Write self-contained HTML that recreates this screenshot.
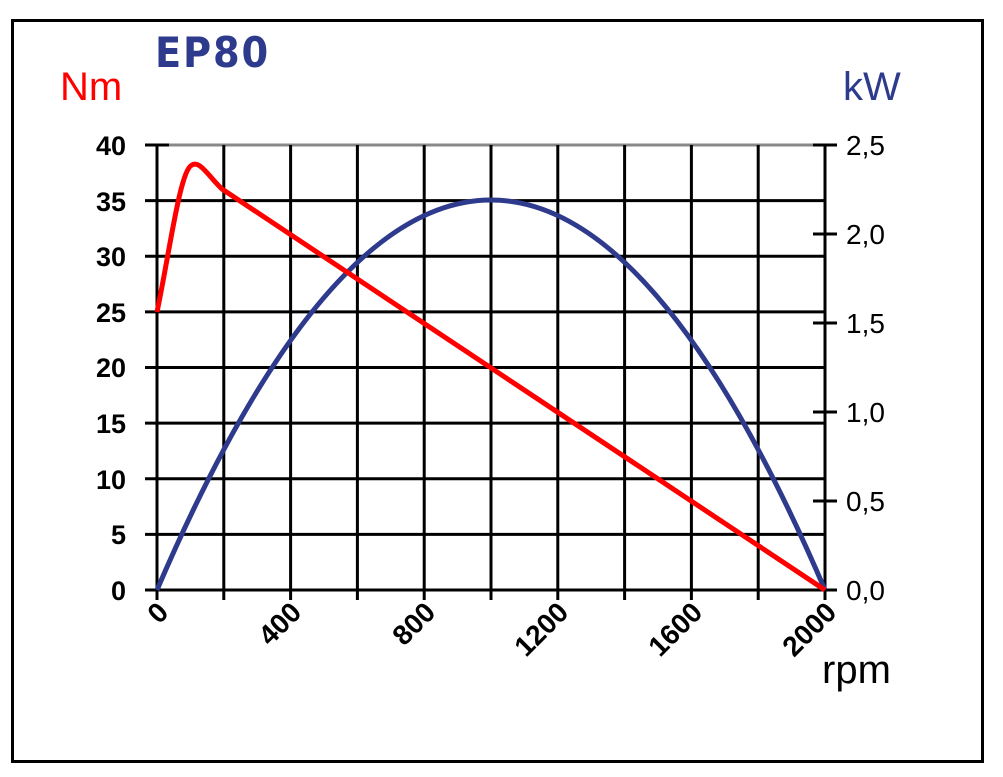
<!DOCTYPE html>
<html><head><style>
body{margin:0;background:#fff;width:1003px;height:772px;overflow:hidden}
</style></head><body>
<svg width="1003" height="772" viewBox="0 0 1003 772" xmlns="http://www.w3.org/2000/svg" font-family="Liberation Sans, sans-serif">
<rect x="12.5" y="20.5" width="970" height="741" fill="#fff" stroke="#000" stroke-width="3"/>
<text x="155" y="67" font-size="42" font-weight="bold" fill="#2e3a8c" letter-spacing="2" font-family="DejaVu Sans, sans-serif" textLength="115" lengthAdjust="spacingAndGlyphs">EP80</text>
<text x="60" y="100" font-size="40" fill="#ff0000">Nm</text>
<text x="843" y="100" font-size="40" fill="#2e3a8c">kW</text>
<text x="822" y="683" font-size="40" fill="#000">rpm</text>
<g stroke="#000" stroke-width="3">
<line x1="157" y1="145" x2="825" y2="145" stroke="#888"/>
<line x1="145" y1="145" x2="169" y2="145"/>
<line x1="145" y1="200.6" x2="825" y2="200.6"/>
<line x1="145" y1="256.25" x2="825" y2="256.25"/>
<line x1="145" y1="311.9" x2="825" y2="311.9"/>
<line x1="145" y1="367.5" x2="825" y2="367.5"/>
<line x1="145" y1="423.1" x2="825" y2="423.1"/>
<line x1="145" y1="478.75" x2="825" y2="478.75"/>
<line x1="145" y1="534.4" x2="825" y2="534.4"/>
<line x1="145" y1="590" x2="837" y2="590"/>
<line x1="157" y1="145" x2="157" y2="600"/>
<line x1="223.8" y1="145" x2="223.8" y2="600"/>
<line x1="290.6" y1="145" x2="290.6" y2="600"/>
<line x1="357.4" y1="145" x2="357.4" y2="600"/>
<line x1="424.2" y1="145" x2="424.2" y2="600"/>
<line x1="491" y1="145" x2="491" y2="600"/>
<line x1="557.8" y1="145" x2="557.8" y2="600"/>
<line x1="624.6" y1="145" x2="624.6" y2="600"/>
<line x1="691.4" y1="145" x2="691.4" y2="600"/>
<line x1="758.2" y1="145" x2="758.2" y2="600"/>
<line x1="825" y1="145" x2="825" y2="600"/>
<line x1="813" y1="145" x2="837" y2="145"/>
<line x1="813" y1="234" x2="837" y2="234"/>
<line x1="813" y1="323" x2="837" y2="323"/>
<line x1="813" y1="412" x2="837" y2="412"/>
<line x1="813" y1="501" x2="837" y2="501"/>
</g>
<g font-size="27" font-weight="bold" text-anchor="end" fill="#000">
<text x="126" y="155">40</text><text x="126" y="211">35</text><text x="126" y="266">30</text>
<text x="126" y="322">25</text><text x="126" y="377">20</text><text x="126" y="433">15</text>
<text x="126" y="489">10</text><text x="126" y="544">5</text><text x="126" y="600">0</text>
</g>
<g font-size="28" fill="#000">
<text x="846" y="155">2,5</text><text x="846" y="244">2,0</text><text x="846" y="333">1,5</text>
<text x="846" y="422">1,0</text><text x="846" y="511">0,5</text><text x="846" y="600">0,0</text>
</g>
<g font-size="28" font-weight="bold" text-anchor="end" fill="#000">
<text transform="translate(170,614) rotate(-45)">0</text>
<text transform="translate(303,614) rotate(-45)">400</text>
<text transform="translate(437,614) rotate(-45)">800</text>
<text transform="translate(570,614) rotate(-45)">1200</text>
<text transform="translate(704,614) rotate(-45)">1600</text>
<text transform="translate(838,614) rotate(-45)">2000</text>
</g>
<path fill="none" stroke="#2e3a8c" stroke-width="5" d="M157,590 Q491,-190 825,590"/>
<path fill="none" stroke="#ff0000" stroke-width="5" stroke-linejoin="round" d="M157,312 C170,250 180,170 192,165 C200,160 210,178 222,189 L825,590"/>
</svg>
</body></html>
